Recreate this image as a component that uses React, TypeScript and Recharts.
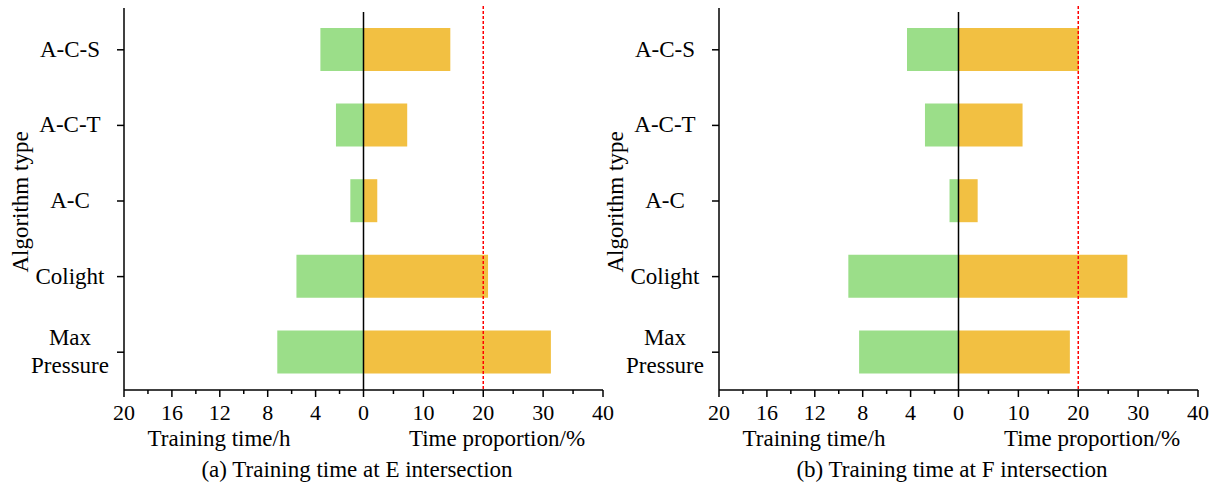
import { BarChart, Bar, XAxis, YAxis, ReferenceLine } from 'recharts';

const algorithms = ['A-C-S', 'A-C-T', 'A-C', 'Colight', 'Max Pressure'];

// training time (h) and share of total time (%) per intersection
const trainingHoursE = [3.6, 2.3, 1.1, 5.6, 7.2];
const timeShareE = [14.5, 7.3, 2.3, 20.8, 31.3];
const trainingHoursF = [4.3, 2.8, 0.75, 9.2, 8.3];
const timeShareF = [20.1, 10.7, 3.2, 28.2, 18.6];

const hourTicks = [20, 18, 16, 14, 12, 10, 8, 6, 4, 2];
const shareTicks = [0, 5, 10, 15, 20, 25, 30, 35, 40];
const shareLimit = 20;

// left half holds 20 h in the same width as 40 % on the right
const HOUR_SCALE = 2;
const axisTicks = [...hourTicks.map((h) => -h * HOUR_SCALE), ...shareTicks];

const FONT = '"Liberation Serif", "Times New Roman", serif';
const GREEN = '#9bde89';
const ORANGE = '#f2c042';

function TimeTick({ x, y, payload }: any) {
  const v = payload.value;
  const shown = v < 0 ? -v / HOUR_SCALE : v;
  const major = v < 0 ? shown % 4 === 0 : v % 10 === 0;
  return (
    <g>
      <line x1={x} x2={x} y1={y} y2={y + (major ? 7 : 4)} stroke="#000" strokeWidth={1.5} />
      {major && (
        <text x={x} y={y + 30} textAnchor="middle" fontFamily={FONT} fontSize={22} fill="#000">
          {shown}
        </text>
      )}
    </g>
  );
}

function AlgorithmTick({ x, y, payload }: any) {
  const words = String(payload.value).split(' ');
  const cx = x - 47;
  return (
    <text x={cx} y={y} textAnchor="middle" fontFamily={FONT} fontSize={23} fill="#000">
      {words.map((w, i) => (
        <tspan key={w} x={cx} dy={i === 0 ? (words.length - 1) * -14 + 7 : 28}>
          {w}
        </tspan>
      ))}
    </text>
  );
}

function StretchedLine({ x1, y1, x2, y2, extend, stroke, strokeWidth, strokeDasharray }: any) {
  const top = Math.min(y1, y2) - extend;
  const bottom = Math.max(y1, y2);
  return (
    <line
      x1={x1}
      x2={x2}
      y1={top}
      y2={bottom}
      stroke={stroke}
      strokeWidth={strokeWidth}
      strokeDasharray={strokeDasharray}
    />
  );
}

function Panel({ left, hours, shares }: { left: number; hours: number[]; shares: number[] }) {
  const data = algorithms.map((name, i) => ({
    name,
    hours: -hours[i] * HOUR_SCALE,
    share: shares[i],
  }));

  return (
    <div style={{ position: 'absolute', left, top: 0 }}>
      <BarChart
        width={620}
        height={488}
        data={data}
        layout="vertical"
        stackOffset="sign"
        margin={{ top: 12, right: 17, bottom: 58, left: 0 }}
      >
        <XAxis
          type="number"
          domain={[-40, 40]}
          ticks={axisTicks}
          interval={0}
          height={40}
          tickSize={0}
          tickMargin={0}
          tickLine={false}
          axisLine={{ stroke: '#000', strokeWidth: 1.5 }}
          tick={(p: any) => <TimeTick {...p} />}
        />
        <YAxis
          type="category"
          dataKey="name"
          width={124}
          interval={0}
          tickSize={7}
          tickMargin={0}
          axisLine={false}
          tickLine={{ stroke: '#000', strokeWidth: 1.5 }}
          tick={(p: any) => <AlgorithmTick {...p} />}
        />
        <Bar dataKey="hours" stackId="t" fill={GREEN} barSize={43} isAnimationActive={false} />
        <Bar dataKey="share" stackId="t" fill={ORANGE} barSize={43} isAnimationActive={false} />
        <ReferenceLine
          x={-40}
          stroke="#000"
          strokeWidth={1.5}
          shape={(p: any) => <StretchedLine {...p} extend={4} />}
        />
        <ReferenceLine x={0} stroke="#000" strokeWidth={1.5} />
        <ReferenceLine
          x={shareLimit}
          stroke="#ff0000"
          strokeWidth={1.5}
          strokeDasharray="3 2"
          shape={(p: any) => <StretchedLine {...p} extend={6} />}
        />
      </BarChart>
    </div>
  );
}

function PanelTitles({ dx, caption }: { dx: number; caption: string }) {
  return (
    <g fontFamily={FONT} fontSize={23} fill="#000">
      <text
        transform={`translate(${20 + dx}, 202) rotate(-90)`}
        textAnchor="middle"
        dominantBaseline="central"
      >
        Algorithm type
      </text>
      <text x={219 + dx} y={446} textAnchor="middle">
        Training time/h
      </text>
      <text x={497 + dx} y={446} textAnchor="middle">
        Time proportion/%
      </text>
      <text x={357 + dx} y={477} textAnchor="middle">
        {caption}
      </text>
    </g>
  );
}

export default function App() {
  return (
    <div style={{ position: 'absolute', left: 0, top: 0, width: 1218, height: 488, background: '#fff' }}>
      <Panel left={0} hours={trainingHoursE} shares={timeShareE} />
      <Panel left={595} hours={trainingHoursF} shares={timeShareF} />
      <svg
        width={1218}
        height={488}
        style={{ position: 'absolute', left: 0, top: 0, pointerEvents: 'none' }}
      >
        <PanelTitles dx={0} caption="(a) Training time at E intersection" />
        <PanelTitles dx={595} caption="(b) Training time at F intersection" />
      </svg>
    </div>
  );
}
